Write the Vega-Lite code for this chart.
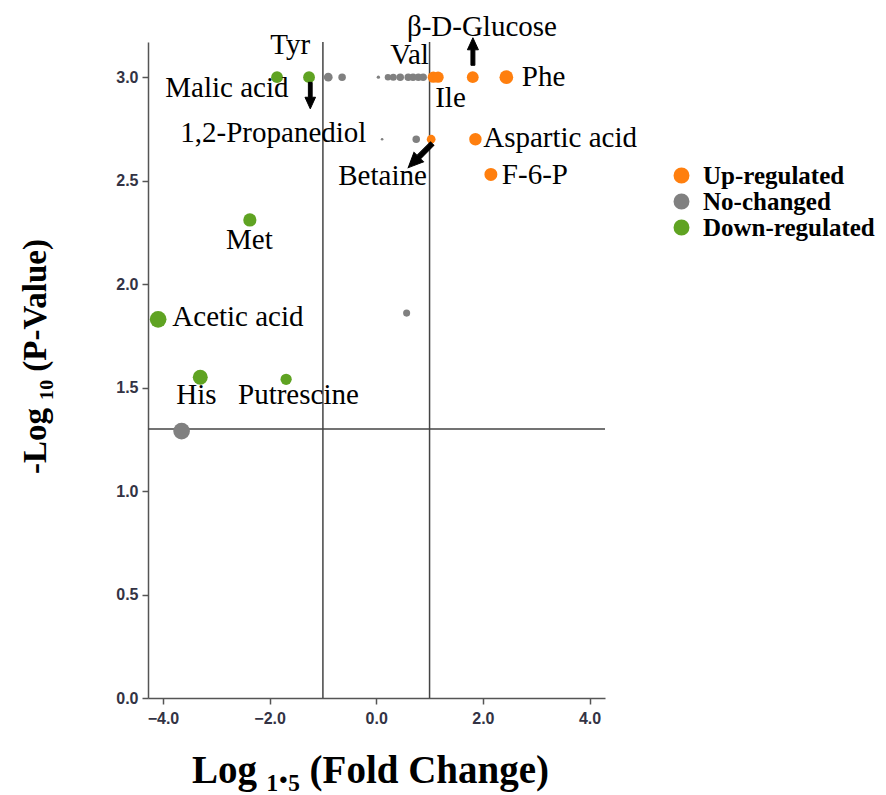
{
  "$schema": "https://vega.github.io/schema/vega-lite/v6.json",
  "width": 457,
  "height": 656,
  "autosize": {"type": "none"},
  "padding": {"left": 148, "top": 42, "right": 281, "bottom": 97},
  "background": "white",
  "config": {
    "view": {"stroke": null},
    "axis": {
      "grid": false,
      "labelFont": "Liberation Sans",
      "labelFontSize": 16,
      "labelFontWeight": "bold",
      "labelColor": "#333344",
      "domainColor": "#555555",
      "domainWidth": 1.5,
      "tickColor": "#555555",
      "tickWidth": 1.5,
      "tickSize": 6,
      "titleFont": "Liberation Serif",
      "titleFontWeight": "bold",
      "titleColor": "black"
    },
    "legend": {
      "orient": "none",
      "legendX": 521,
      "legendY": 121,
      "padding": 0,
      "symbolType": "circle",
      "symbolSize": 254,
      "symbolStrokeWidth": 0,
      "symbolOpacity": 1,
      "labelFont": "Liberation Serif",
      "labelFontSize": 25,
      "labelFontWeight": "bold",
      "labelColor": "black",
      "labelOffset": 9,
      "rowPadding": 0,
      "labelLimit": 300
    }
  },
  "datasets": {
    "metabolites": [
      {"name": "", "fc": -0.90, "p": 3.0, "group": "No-changed", "vip": 0.55},
      {"name": "", "fc": -0.64, "p": 3.0, "group": "No-changed", "vip": 0.4},
      {"name": "", "fc": 0.04, "p": 3.0, "group": "No-changed", "vip": 0.08},
      {"name": "", "fc": 0.22, "p": 3.0, "group": "No-changed", "vip": 0.3},
      {"name": "", "fc": 0.32, "p": 3.0, "group": "No-changed", "vip": 0.35},
      {"name": "", "fc": 0.45, "p": 3.0, "group": "No-changed", "vip": 0.4},
      {"name": "", "fc": 0.60, "p": 3.0, "group": "No-changed", "vip": 0.4},
      {"name": "", "fc": 0.69, "p": 3.0, "group": "No-changed", "vip": 0.4},
      {"name": "", "fc": 0.79, "p": 3.0, "group": "No-changed", "vip": 0.4},
      {"name": "", "fc": 0.88, "p": 3.0, "group": "No-changed", "vip": 0.4},
      {"name": "1,2-Propanediol", "fc": 0.11, "p": 2.70, "group": "No-changed", "vip": 0.05},
      {"name": "", "fc": 0.75, "p": 2.70, "group": "No-changed", "vip": 0.4},
      {"name": "", "fc": 0.57, "p": 1.86, "group": "No-changed", "vip": 0.36},
      {"name": "", "fc": -3.65, "p": 1.29, "group": "No-changed", "vip": 2.0},
      {"name": "Tyr", "fc": -1.86, "p": 3.0, "group": "Down-regulated", "vip": 1.0},
      {"name": "Malic acid", "fc": -1.26, "p": 3.0, "group": "Down-regulated", "vip": 1.0},
      {"name": "Met", "fc": -2.37, "p": 2.31, "group": "Down-regulated", "vip": 1.25},
      {"name": "Acetic acid", "fc": -4.09, "p": 1.83, "group": "Down-regulated", "vip": 2.0},
      {"name": "His", "fc": -3.30, "p": 1.55, "group": "Down-regulated", "vip": 1.6},
      {"name": "Putrescine", "fc": -1.69, "p": 1.54, "group": "Down-regulated", "vip": 0.9},
      {"name": "Val", "fc": 1.07, "p": 3.0, "group": "Up-regulated", "vip": 0.9},
      {"name": "Ile", "fc": 1.16, "p": 3.0, "group": "Up-regulated", "vip": 0.9},
      {"name": "β-D-Glucose", "fc": 1.81, "p": 3.0, "group": "Up-regulated", "vip": 1.0},
      {"name": "Phe", "fc": 2.44, "p": 3.0, "group": "Up-regulated", "vip": 1.35},
      {"name": "Betaine", "fc": 1.03, "p": 2.70, "group": "Up-regulated", "vip": 0.55},
      {"name": "Aspartic acid", "fc": 1.86, "p": 2.70, "group": "Up-regulated", "vip": 1.1},
      {"name": "F-6-P", "fc": 2.15, "p": 2.53, "group": "Up-regulated", "vip": 1.2}
    ],
    "labels": [
      {"label": "Tyr", "lx": -1.987, "ly": 3.114},
      {"label": "Malic acid", "lx": -3.955, "ly": 2.902},
      {"label": "β-D-Glucose", "lx": 0.575, "ly": 3.201},
      {"label": "Val", "lx": 0.262, "ly": 3.066},
      {"label": "Phe", "lx": 2.731, "ly": 2.955},
      {"label": "Ile", "lx": 1.106, "ly": 2.854},
      {"label": "1,2-Propanediol", "lx": -3.674, "ly": 2.689},
      {"label": "Aspartic acid", "lx": 2.006, "ly": 2.665},
      {"label": "Betaine", "lx": -0.712, "ly": 2.477},
      {"label": "F-6-P", "lx": 2.356, "ly": 2.482},
      {"label": "Met", "lx": -2.817, "ly": 2.168},
      {"label": "Acetic acid", "lx": -3.824, "ly": 1.796},
      {"label": "His", "lx": -3.749, "ly": 1.419},
      {"label": "Putrescine", "lx": -2.592, "ly": 1.419}
    ],
    "arrows": [
      {"ax": -1.237, "ay": 2.911, "dir": "down"},
      {"ax": 1.813, "ay": 3.124, "dir": "up"},
      {"ax": 0.825, "ay": 2.621, "dir": "down-left"}
    ]
  },
  "layer": [
    {
      "data": {"values": [{"xv": -1}, {"xv": 1}]},
      "mark": {"type": "rule", "color": "#444444", "strokeWidth": 1.5},
      "encoding": {
        "x": {
          "field": "xv", "type": "quantitative",
          "scale": {"domain": [-4.28, 4.29], "nice": false, "zero": false},
          "axis": {"values": [-4, -2, 0, 2, 4], "format": ".1f", "labelPadding": 6, "title": "Log ₁.₅ (Fold Change)", "titleFontSize": 39, "titleX": 222, "titleY": 72, "titleBaseline": "middle", "titleAlign": "center"}
        }
      }
    },
    {
      "data": {"values": [{"yv": 1.3}]},
      "mark": {"type": "rule", "color": "#444444", "strokeWidth": 1.5},
      "encoding": {
        "y": {
          "field": "yv", "type": "quantitative",
          "scale": {"domain": [0, 3.17], "nice": false, "zero": false},
          "axis": {"values": [0, 0.5, 1, 1.5, 2, 2.5, 3], "format": ".1f", "labelPadding": 4, "title": "-Log ₁₀ (P-Value)", "titleFontSize": 33, "titleX": -113, "titleY": 314, "titleAngle": -90, "titleBaseline": "middle", "titleAlign": "center"}
        }
      }
    },
    {
      "data": {"name": "metabolites"},
      "mark": {"type": "circle", "opacity": 1},
      "encoding": {
        "x": {
          "field": "fc", "type": "quantitative",
          "scale": {"domain": [-4.28, 4.29], "nice": false, "zero": false},
          "axis": {"values": [-4, -2, 0, 2, 4], "format": ".1f", "labelPadding": 6, "title": "Log ₁.₅ (Fold Change)", "titleFontSize": 39, "titleX": 222, "titleY": 72, "titleBaseline": "middle", "titleAlign": "center"}
        },
        "y": {
          "field": "p", "type": "quantitative",
          "scale": {"domain": [0, 3.17], "nice": false, "zero": false},
          "axis": {"values": [0, 0.5, 1, 1.5, 2, 2.5, 3], "format": ".1f", "labelPadding": 4, "title": "-Log ₁₀ (P-Value)", "titleFontSize": 33, "titleX": -113, "titleY": 314, "titleAngle": -90, "titleBaseline": "middle", "titleAlign": "center"}
        },
        "color": {
          "field": "group", "type": "nominal",
          "scale": {"domain": ["Up-regulated", "No-changed", "Down-regulated"], "range": ["#FF7F0E", "#808080", "#5FA322"]},
          "legend": {"title": null}
        },
        "size": {
          "field": "vip", "type": "quantitative",
          "scale": {"domain": [0, 2], "range": [0, 280], "zero": true},
          "legend": null
        }
      }
    },
    {
      "data": {"name": "labels"},
      "mark": {"type": "text", "font": "Liberation Serif", "fontSize": 29, "align": "left", "baseline": "alphabetic", "color": "black"},
      "encoding": {
        "x": {"field": "lx", "type": "quantitative", "scale": {"domain": [-4.28, 4.29], "nice": false, "zero": false}, "axis": {"values": [-4, -2, 0, 2, 4], "format": ".1f", "labelPadding": 6, "title": "Log ₁.₅ (Fold Change)", "titleFontSize": 39, "titleX": 222, "titleY": 72, "titleBaseline": "middle", "titleAlign": "center"}},
        "y": {"field": "ly", "type": "quantitative", "scale": {"domain": [0, 3.17], "nice": false, "zero": false}, "axis": {"values": [0, 0.5, 1, 1.5, 2, 2.5, 3], "format": ".1f", "labelPadding": 4, "title": "-Log ₁₀ (P-Value)", "titleFontSize": 33, "titleX": -113, "titleY": 314, "titleAngle": -90, "titleBaseline": "middle", "titleAlign": "center"}},
        "text": {"field": "label"}
      }
    },
    {
      "data": {"name": "arrows"},
      "mark": {"type": "point", "shape": "arrow", "filled": true, "color": "black", "stroke": "black", "strokeWidth": 1, "opacity": 1},
      "encoding": {
        "x": {"field": "ax", "type": "quantitative", "scale": {"domain": [-4.28, 4.29], "nice": false, "zero": false}, "axis": {"values": [-4, -2, 0, 2, 4], "format": ".1f", "labelPadding": 6, "title": "Log ₁.₅ (Fold Change)", "titleFontSize": 39, "titleX": 222, "titleY": 72, "titleBaseline": "middle", "titleAlign": "center"}},
        "y": {"field": "ay", "type": "quantitative", "scale": {"domain": [0, 3.17], "nice": false, "zero": false}, "axis": {"values": [0, 0.5, 1, 1.5, 2, 2.5, 3], "format": ".1f", "labelPadding": 4, "title": "-Log ₁₀ (P-Value)", "titleFontSize": 33, "titleX": -113, "titleY": 314, "titleAngle": -90, "titleBaseline": "middle", "titleAlign": "center"}},
        "angle": {"field": "dir", "type": "nominal", "scale": {"type": "ordinal", "domain": ["up", "down", "down-left"], "range": [0, 180, 225]}, "legend": null},
        "size": {"field": "dir", "type": "nominal", "scale": {"type": "ordinal", "domain": ["up", "down", "down-left"], "range": [760, 700, 1150]}, "legend": null}
      }
    }
  ],
  "resolve": {"scale": {"size": "independent"}}
}
